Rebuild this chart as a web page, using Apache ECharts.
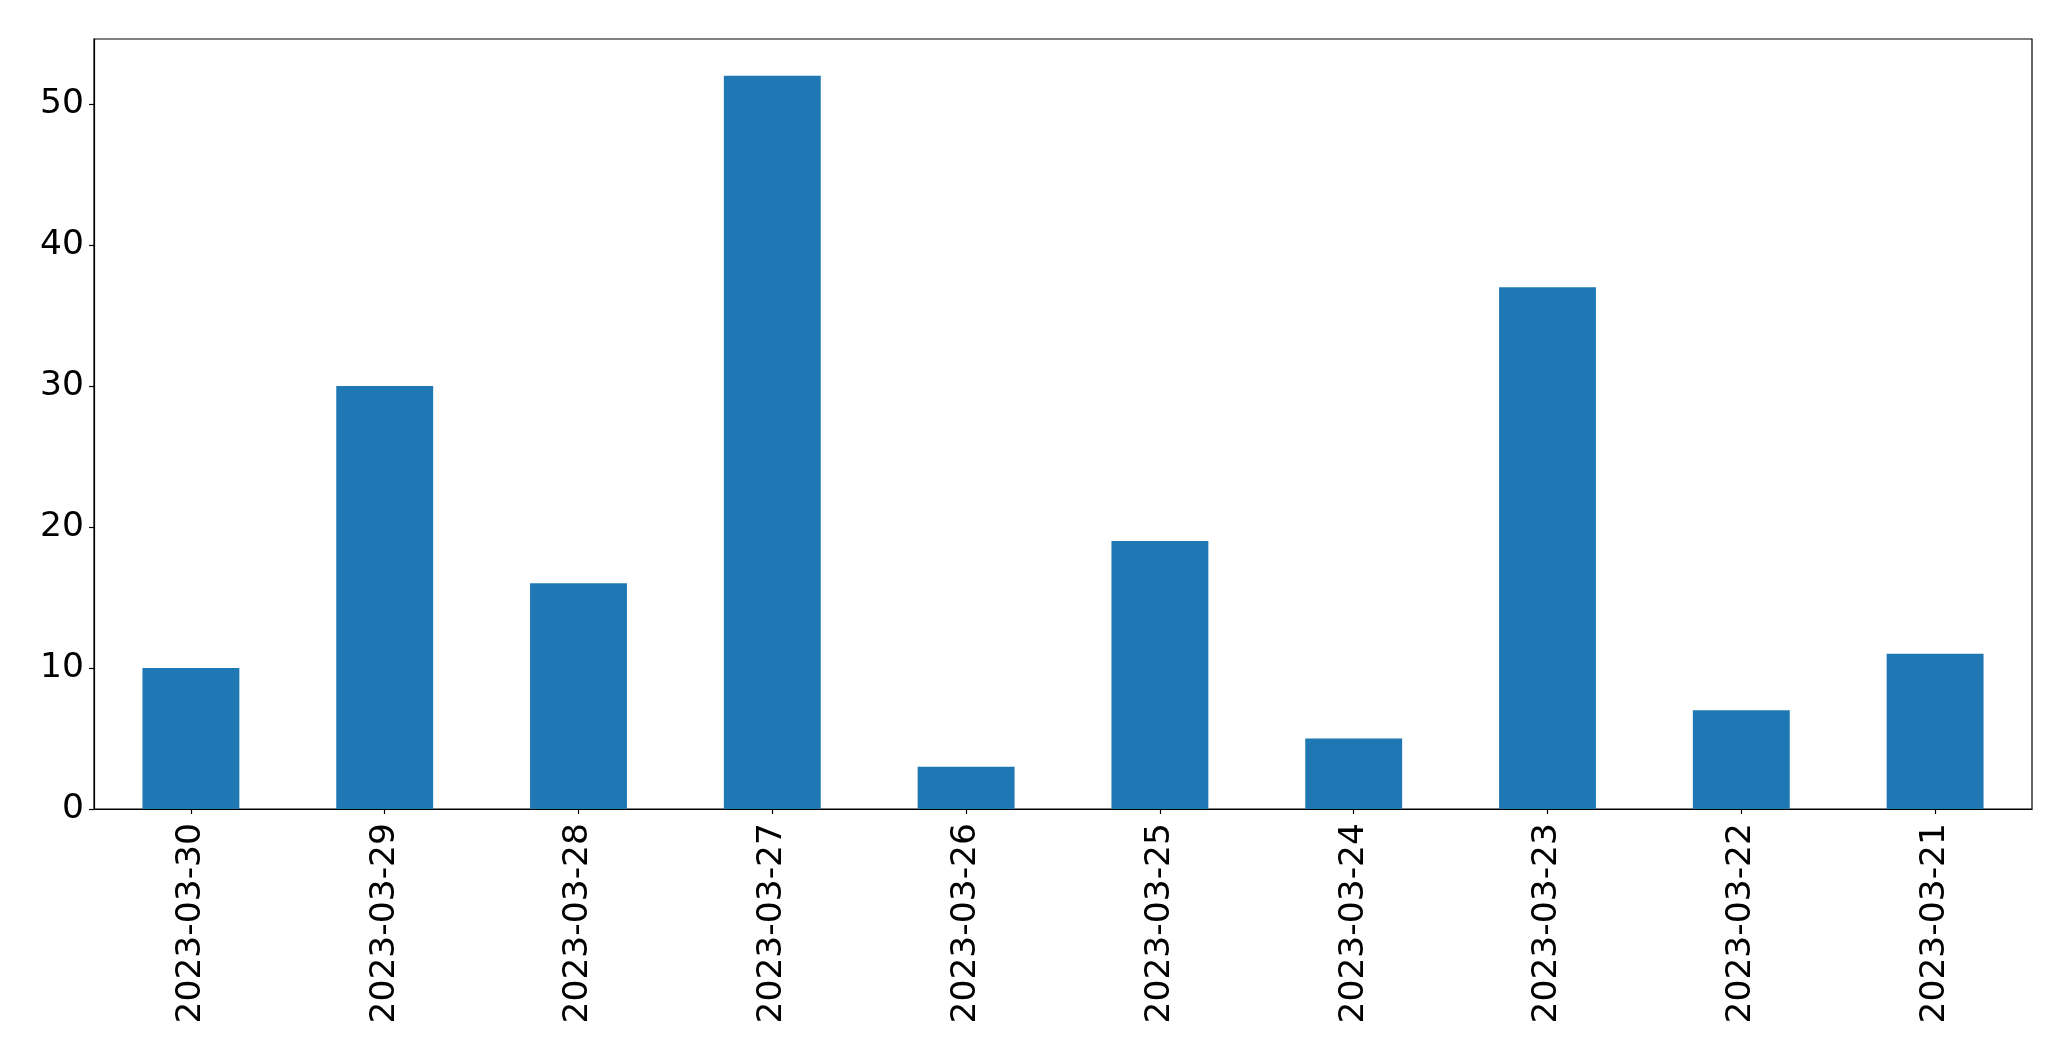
<!DOCTYPE html>
<html>
<head>
<meta charset="utf-8">
<script src="https://cdn.jsdelivr.net/npm/echarts@6/dist/echarts.min.js"></script>
<style>
html,body{margin:0;padding:0;background:#fff;}
#chart{width:2071px;height:1061px;}
</style>
</head>
<body>
<div id="chart"></div>
<script>
const categories = ['2023-03-30','2023-03-29','2023-03-28','2023-03-27','2023-03-26','2023-03-25','2023-03-24','2023-03-23','2023-03-22','2023-03-21'];
const values = [10, 30, 16, 52, 3, 19, 5, 37, 7, 11];
const yTicks = [0, 10, 20, 30, 40, 50];

const chart = echarts.init(document.getElementById('chart'), null, {renderer: 'canvas'});
const font = 'DejaVu Sans';
chart.setOption({
  animation: false,
  backgroundColor: '#ffffff',
  grid: {
    left: 94, top: 39, right: 39, bottom: 252,
    show: true, borderColor: '#000', borderWidth: 1.2, backgroundColor: 'transparent'
  },
  xAxis: {
    type: 'category',
    data: categories,
    boundaryGap: true,
    axisLine: {show: true, lineStyle: {color: '#000', width: 1.2}},
    axisTick: {show: true, alignWithLabel: true, length: 5, lineStyle: {color: '#000', width: 1.2}},
    axisLabel: {rotate: 90, margin: 14, fontFamily: font, fontSize: 34.5, color: '#000', interval: 0},
    splitLine: {show: false}
  },
  yAxis: {
    type: 'value',
    min: 0,
    max: 54.6,
    interval: 10,
    axisLine: {show: true, lineStyle: {color: '#000', width: 1.2}},
    axisTick: {show: true, length: 5, lineStyle: {color: '#000', width: 1.2}, customValues: yTicks},
    axisLabel: {margin: 10, fontFamily: font, fontSize: 34.5, color: '#000', customValues: yTicks},
    splitLine: {show: false}
  },
  series: [{
    type: 'bar',
    data: values,
    barWidth: '50%',
    itemStyle: {color: '#1f77b4'}
  }]
});
</script>
</body>
</html>
